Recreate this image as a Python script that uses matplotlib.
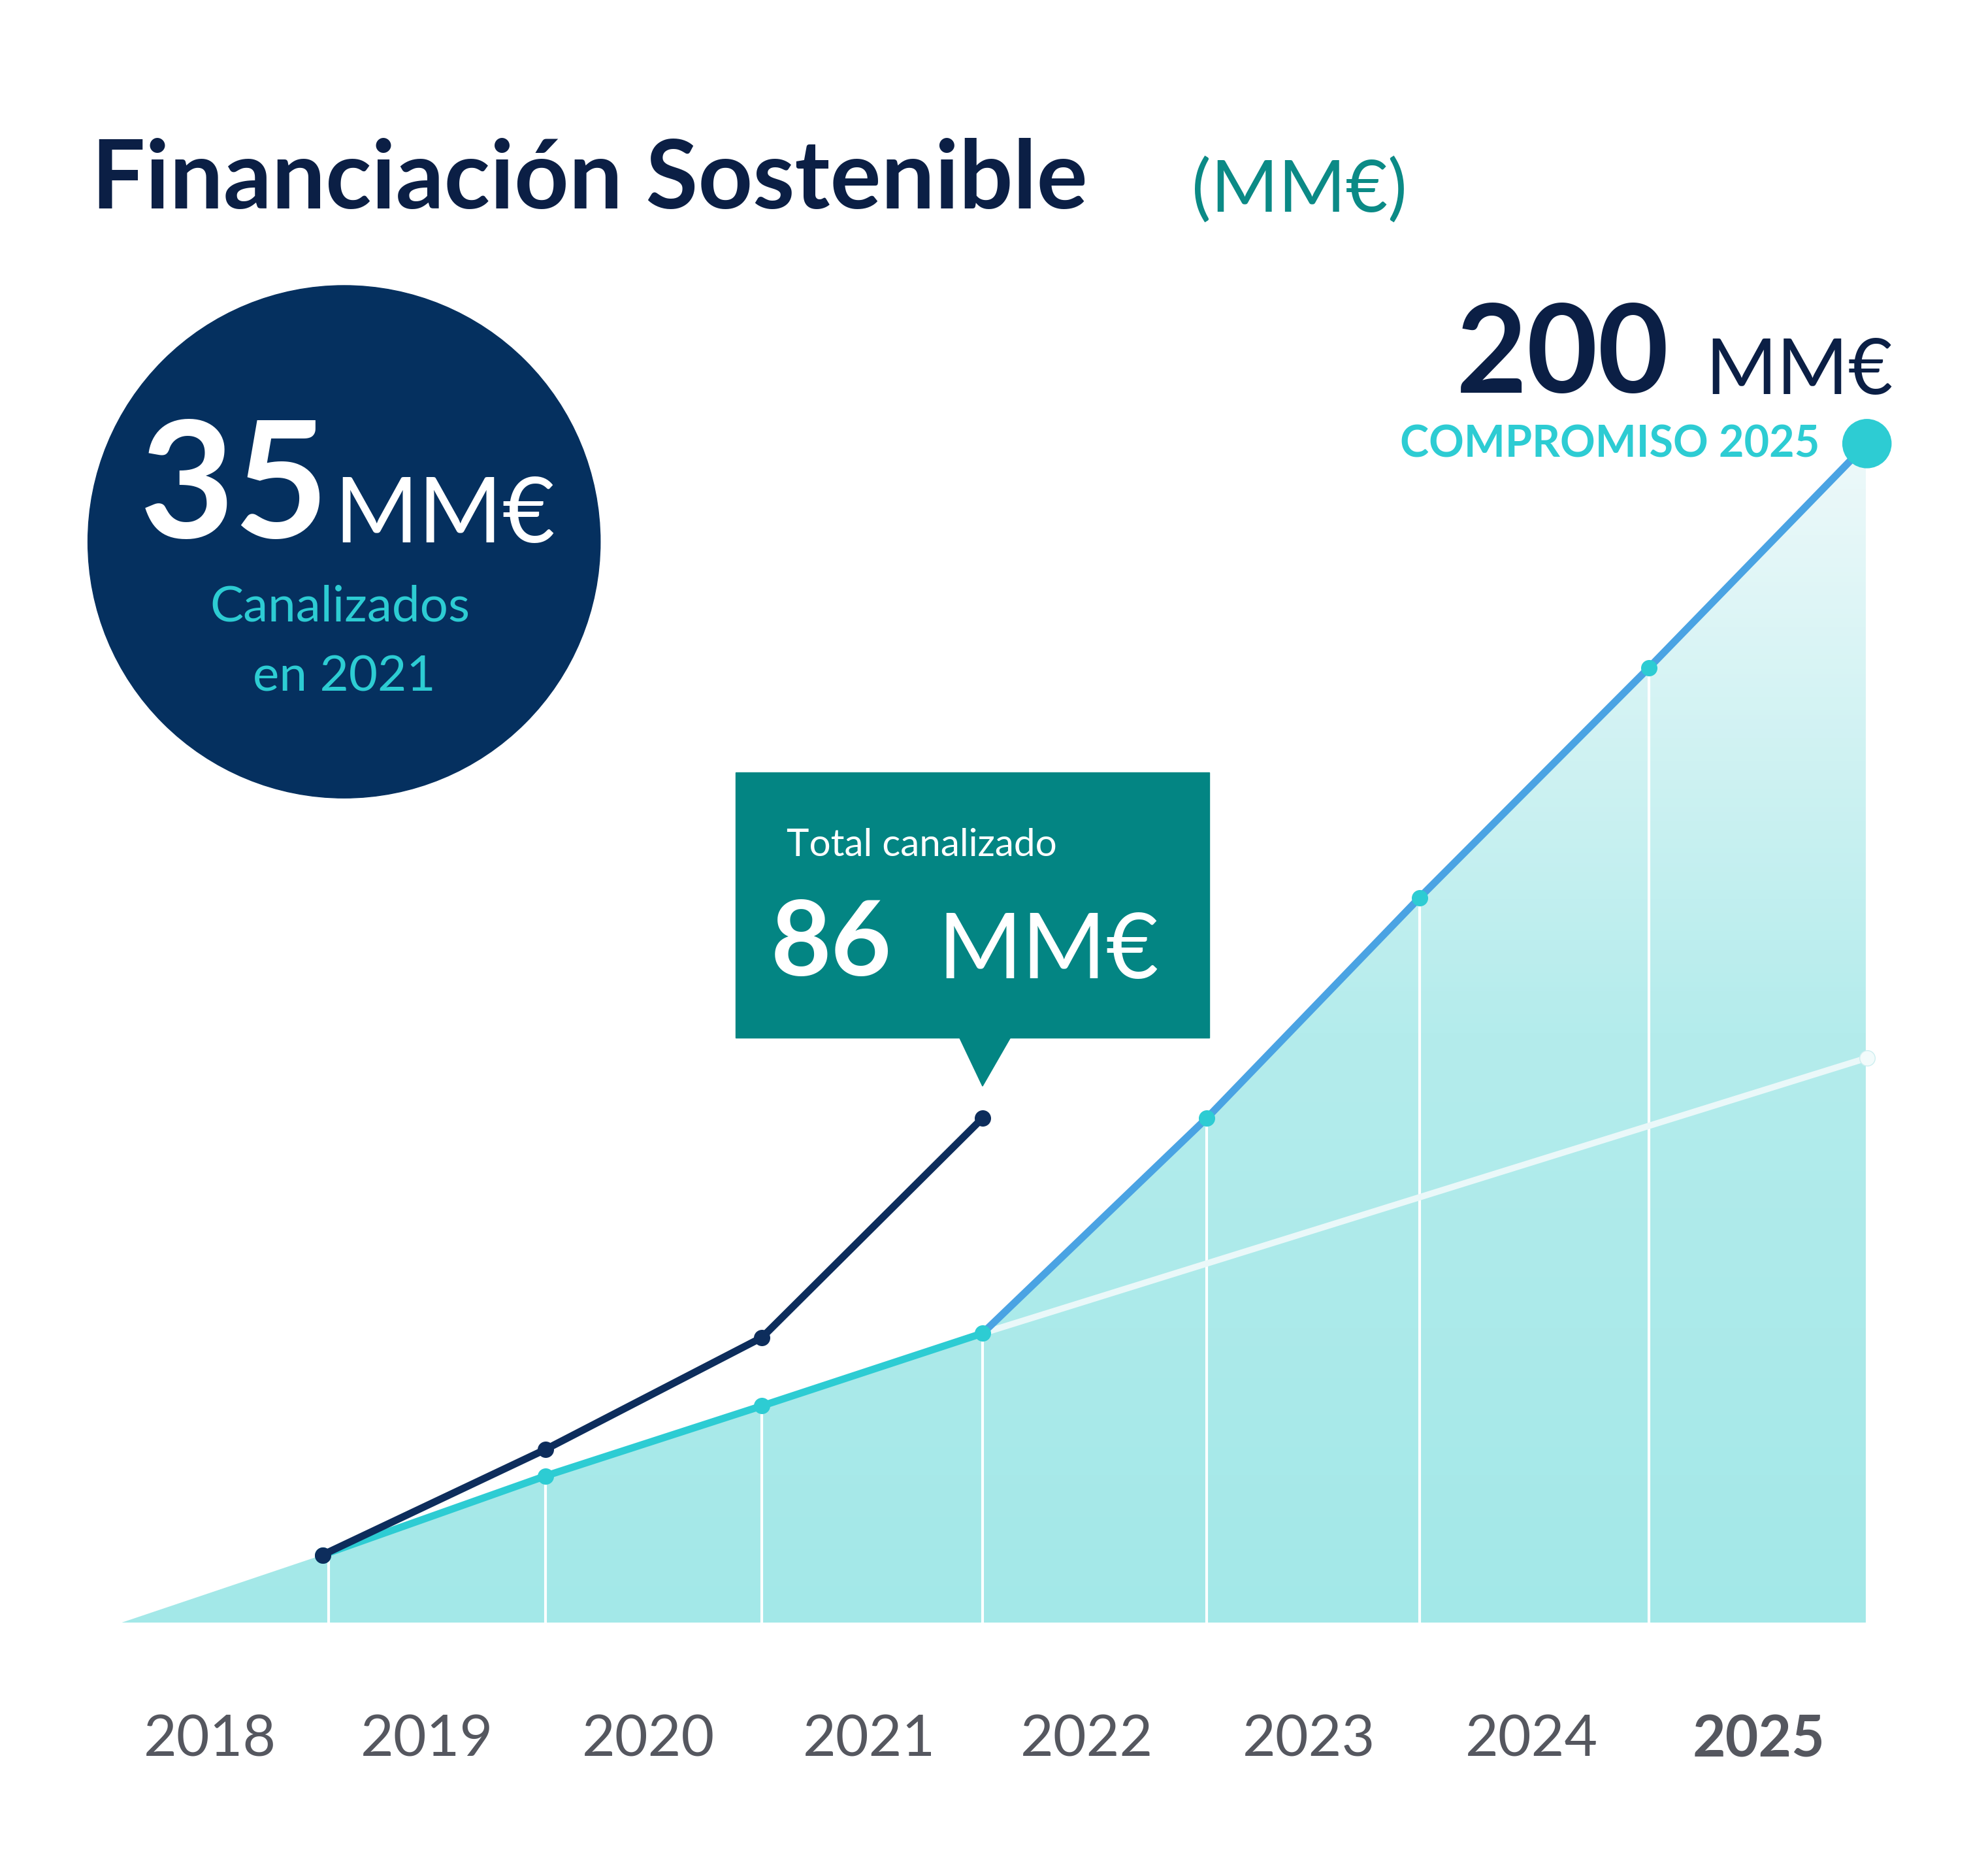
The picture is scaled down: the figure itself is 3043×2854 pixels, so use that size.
import numpy as np
import matplotlib
matplotlib.use("Agg")
import matplotlib.pyplot as plt
from matplotlib.patches import Polygon, Ellipse, Rectangle
from matplotlib.colors import LinearSegmentedColormap

years = ["2018", "2019", "2020", "2021", "2022", "2023", "2024", "2025"]
x_pos = [253, 428, 598, 771, 947, 1114, 1294, 1465]
actual_cum = [11.5, 29.4, 48.4, 85.6]          # dark line (total canalizado)
teal_vals = [11.5, 24.9, 36.8, 49.1]            # teal line
target_vals = [49.1, 85.6, 123.0, 162.0, 200.0]  # blue line 2021-2025
white_end = 95.8

K = 4.625  # ref px per MM€
base = 1273
def yv(p):
    return (base - p) / K

fig = plt.figure(figsize=(30.43, 28.54), dpi=100)
ax = fig.add_axes([0, 0, 1, 1])
ax.set_xlim(0, 1560)
ax.set_ylim(yv(1463), yv(0))
ax.axis("off")

# area under blue/teal path
px = [95] + x_pos[:4] + x_pos[4:] + [1465]
py = [0] + teal_vals + target_vals[1:] + [0]
poly = Polygon(list(zip(px, py)), closed=True, facecolor="none", edgecolor="none")
ax.add_patch(poly)
cmap = LinearSegmentedColormap.from_list("g", ["#a3e8e8", "#b4ecec", "#eef9fa"])
grad = np.linspace(0, 1, 256).reshape(-1, 1)
im = ax.imshow(grad, extent=[95, 1465, 0, 200], origin="lower", aspect="auto", cmap=cmap, zorder=1)
im.set_clip_path(poly)

# vertical white lines
tops = teal_vals + target_vals[1:]
for x, t in zip(x_pos, tops):
    if x == 253:
        x = 258
    ax.plot([x, x], [0, t], color="white", lw=3, zorder=2)

# white projection line
ax.plot([x_pos[3], 1465], [teal_vals[-1], white_end], color="#eaf8f9", lw=7, zorder=3)
ax.plot([1465], [white_end], "o", ms=17, mfc="#f2fbfb", mec="#cdeff0", zorder=6)

# blue target line
ax.plot(x_pos[3:], target_vals, color="#4aa3e3", lw=8, zorder=4)
ax.plot(x_pos[4:7], target_vals[1:4], "o", ms=17, color="#2dccd3", zorder=6)
ax.add_patch(Ellipse((1465, 200), 38, 38 / K, color="#2dccd3", zorder=7))

# teal line
ax.plot(x_pos[:4], teal_vals, color="#2dccd3", lw=8, marker="o", ms=17, zorder=5)
# dark line
ax.plot(x_pos[:4], actual_cum, color="#0d2d5c", lw=8, marker="o", ms=17, zorder=6)

# year labels
lab_x = [165, 335, 509, 682, 853, 1027, 1202, 1380]
for i, (lx, y) in enumerate(zip(lab_x, years)):
    ax.text(lx, yv(1365), y, ha="center", va="center", fontsize=63, color="#55575f",
            fontweight="bold" if y == "2025" else "normal", family="Lato")

# title
ax.text(72, yv(142), "Financiación Sostenible", fontsize=105, fontweight="bold",
        color="#0b1f45", va="center", family="Lato")
ax.text(935, yv(150), "(MM€)", fontsize=80, color="#0b8a86", va="center", family="Lato")

# circle
ax.add_patch(Ellipse((270, yv(425)), 402, 402 / K, color="#05305f", zorder=2))
ax.text(258, yv(385), "35", fontsize=180, fontweight="bold", color="white",
        ha="right", va="center", family="Lato", zorder=3)
ax.text(262, yv(405), "MM€", fontsize=100, color="white", ha="left", va="center",
        family="Lato", zorder=3)
ax.text(267, yv(476), "Canalizados", fontsize=55, color="#2dccd3", ha="center",
        va="center", family="Lato", zorder=3)
ax.text(270, yv(531), "en 2021", fontsize=55, color="#2dccd3", ha="center",
        va="center", family="Lato", zorder=3)

# 200 MM€
ax.text(1310, yv(280), "200", fontsize=135, fontweight="bold", color="#0b1f45",
        ha="right", va="center", family="Lato")
ax.text(1338, yv(292), "MM€", fontsize=85, color="#0b1f45", ha="left",
        va="center", family="Lato")
ax.text(1428, yv(349), "COMPROMISO 2025", fontsize=48, fontweight="bold",
        color="#2dccd3", ha="right", va="center", family="Lato")

# callout
ax.add_patch(Rectangle((577, yv(814)), 372, (814 - 606) / K, color="#038583", zorder=8))
ax.add_patch(Polygon([(752, yv(812)), (794, yv(812)), (771, yv(852))], color="#038583", zorder=8))
ax.text(617, yv(663), "Total canalizado", fontsize=42, color="white", va="center",
        family="Lato", zorder=9)
ax.text(605, yv(742), "86", fontsize=115, fontweight="bold", color="white",
        va="center", family="Lato", zorder=9)
ax.text(736, yv(747), "MM€", fontsize=100, color="white", va="center",
        family="Lato", zorder=9)

fig.savefig("out.png", dpi=100, facecolor="white")
